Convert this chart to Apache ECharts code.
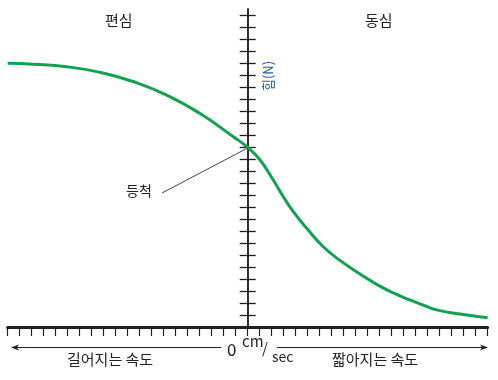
<!DOCTYPE html>
<html>
<head>
<meta charset="utf-8">
<script src="https://cdn.jsdelivr.net/npm/echarts@6/dist/echarts.min.js"></script>
<style>
  html, body { margin: 0; padding: 0; background: #fff; }
  #chart { width: 498px; height: 380px; }
</style>
</head>
<body>
<div id="chart"></div>
<script>
// velocity (x, negative = lengthening) vs force (y)
const velocity = [-20, -17.9, -15.1, -12.3, -9.5, -6.75, -4, -1.2, 0, 1.03, 2.13, 2.97, 3.8, 4.92, 6.3, 7.69, 9.36, 10.75, 12.13, 13.53, 14.92, 15.75, 17.69, 20]
const force = [21.98, 21.9, 21.69, 21.22, 20.44, 19.33, 17.81, 15.86, 14.96, 13.92, 12.25, 10.86, 9.61, 8.23, 6.69, 5.55, 4.42, 3.55, 2.84, 2.25, 1.71, 1.43, 1.08, 0.78]
const yTicks = Array.from({ length: 26 }, (_, i) => i + 1)

const textColor = '#231f20'
const font = '"Noto Sans CJK KR", "Noto Sans", sans-serif'

// two y axes moved onto x = 0 so the ticks stick out on both sides
const yAxisBase = {
  type: 'value',
  min: 0,
  max: 26.5,
  interval: 1,
  offset: -240,
  axisLine: { onZero: false, lineStyle: { color: textColor, width: 1.5 } },
  axisTick: { inside: false, length: 8, customValues: yTicks, lineStyle: { color: textColor, width: 1.3 } },
  axisLabel: { show: false },
  splitLine: { show: false },
}

const myChart = echarts.init(document.getElementById('chart'))
const option = {
  animation: false,
  grid: { left: 7.7, right: 10.3, top: 9, bottom: 53 },
  xAxis: {
    type: 'value',
    min: -20,
    max: 20,
    interval: 1,
    axisLine: { onZero: false, lineStyle: { color: textColor, width: 3 } },
    axisTick: { inside: false, length: 9, lineStyle: { color: textColor, width: 1.2 } },
    axisLabel: { show: false },
    splitLine: { show: false },
  },
  yAxis: [
    Object.assign({}, yAxisBase, { position: 'left' }),
    Object.assign({}, yAxisBase, { position: 'right' }),
  ],
  series: [
    {
      type: 'line',
      data: velocity.map((v, i) => [v, force[i]]),
      smooth: 0.5,
      symbol: 'none',
      lineStyle: { color: '#10a24f', width: 3 },
      z: 3,
    },
  ],
  graphic: [
    { type: 'text', left: 105, top: 13, style: { text: '편심', font: '15px ' + font, fill: textColor } },
    { type: 'text', left: 365, top: 13, style: { text: '동심', font: '15px ' + font, fill: textColor } },
    {
      type: 'text', x: 268, y: 91, rotation: Math.PI / 2,
      style: { text: '힘(N)', font: '13px ' + font, fill: '#24609c', textVerticalAlign: 'middle' },
    },
    { type: 'text', left: 126, top: 184, style: { text: '등척', font: '14px ' + font, fill: textColor } },
    { type: 'line', shape: { x1: 162, y1: 193, x2: 247.7, y2: 148 }, style: { stroke: '#444', lineWidth: 1 } },
    // bottom arrows
    { type: 'line', shape: { x1: 16, y1: 347.5, x2: 221, y2: 347.5 }, style: { stroke: textColor, lineWidth: 1.2 } },
    { type: 'polygon', shape: { points: [[11, 347.5], [19, 344.5], [17, 347.5], [19, 350.5]] }, style: { fill: textColor } },
    { type: 'line', shape: { x1: 277, y1: 347.5, x2: 482, y2: 347.5 }, style: { stroke: textColor, lineWidth: 1.2 } },
    { type: 'polygon', shape: { points: [[488, 347.5], [480, 344.5], [482, 347.5], [480, 350.5]] }, style: { fill: textColor } },
    { type: 'text', left: 227, top: 341, style: { text: '0', font: '17px ' + font, fill: textColor } },
    { type: 'text', left: 242, top: 334, style: { text: 'cm', font: '15px ' + font, fill: textColor } },
    { type: 'text', left: 262, top: 341, style: { text: '/', font: '15px ' + font, fill: textColor } },
    { type: 'text', left: 272, top: 350, style: { text: 'sec', font: '14px ' + font, fill: textColor } },
    { type: 'text', left: 67, top: 352, style: { text: '길어지는 속도', font: '15px ' + font, fill: textColor } },
    { type: 'text', left: 332, top: 352, style: { text: '짧아지는 속도', font: '15px ' + font, fill: textColor } },
  ],
}
myChart.setOption(option)
</script>
</body>
</html>
